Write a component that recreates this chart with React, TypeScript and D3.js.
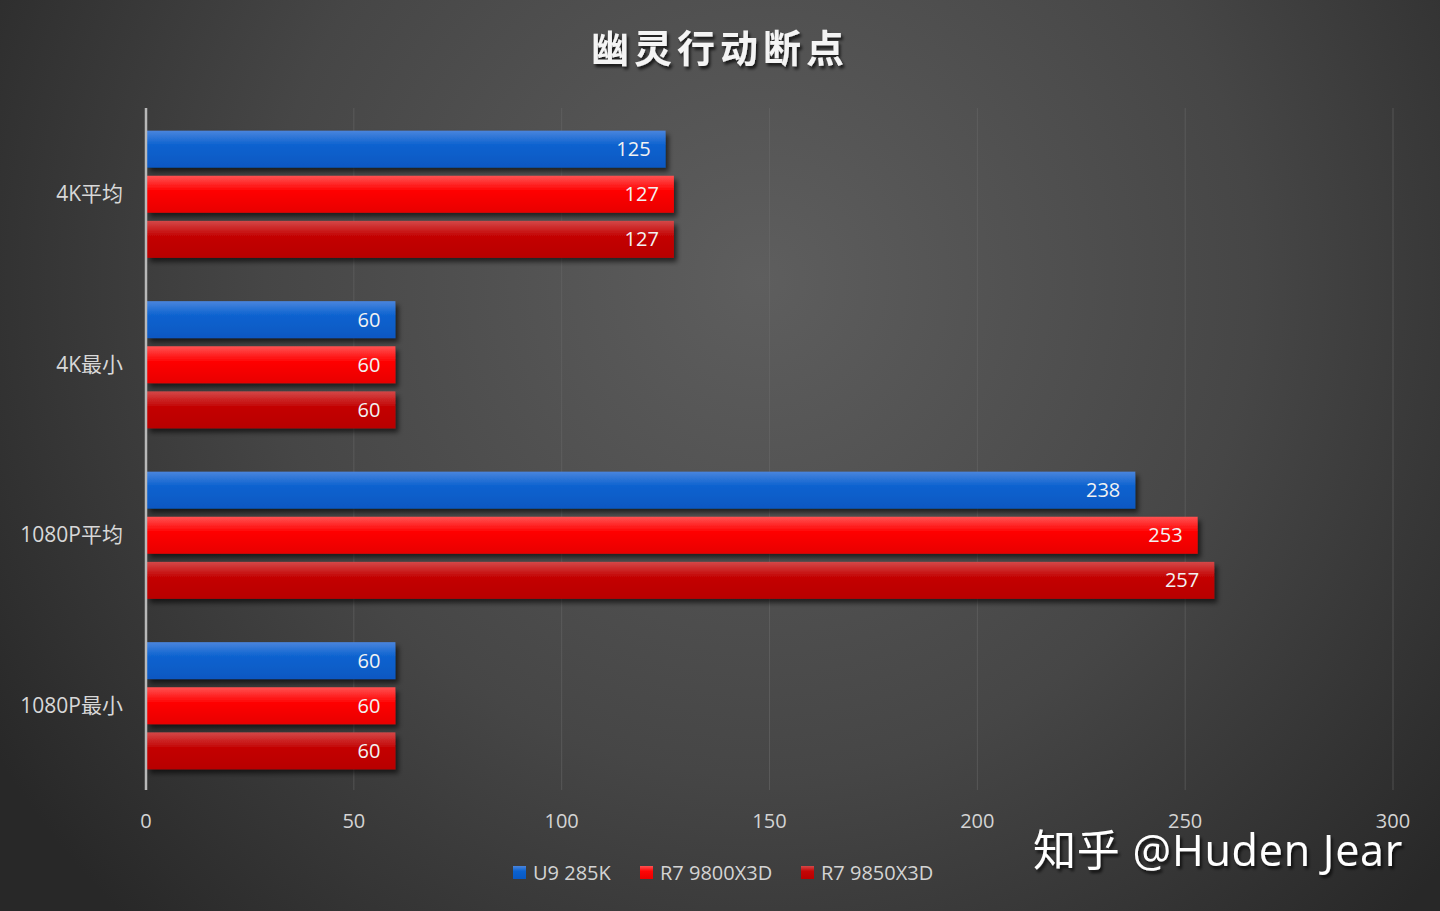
import React, { useEffect, useRef } from 'react';
import * as d3 from 'd3';

const categories = ['4K平均', '4K最小', '1080P平均', '1080P最小'];
const seriesNames = ['U9 285K', 'R7 9800X3D', 'R7 9850X3D'];
const u9285k = [125, 60, 238, 60];
const r79800x3d = [127, 60, 253, 60];
const r79850x3d = [127, 60, 257, 60];
const xTicks = [0, 50, 100, 150, 200, 250, 300];

const W = 1440;
const H = 911;
const FONT = '"Open Sans", "Noto Sans CJK SC", sans-serif';

const App: React.FC = () => {
  const ref = useRef<SVGSVGElement>(null);

  useEffect(() => {
    const svg = d3.select(ref.current);
    svg.selectAll('*').remove();
    svg.attr('width', W).attr('height', H);

    const defs = svg.append('defs');

    // background glow
    const bg = defs.append('radialGradient').attr('id', 'bg')
      .attr('gradientUnits', 'userSpaceOnUse')
      .attr('cx', 760).attr('cy', 280).attr('r', 900);
    bg.append('stop').attr('offset', '0%').attr('stop-color', '#5e5e5e');
    bg.append('stop').attr('offset', '55%').attr('stop-color', '#464646');
    bg.append('stop').attr('offset', '100%').attr('stop-color', '#282828');

    const barColors = [
      ['#4a85dd', '#0b62cf', '#0858c2'],
      ['#ff5252', '#ff0505', '#e80000'],
      ['#d44848', '#c40606', '#b80000'],
    ];
    barColors.forEach((c, i) => {
      const g = defs.append('linearGradient').attr('id', `bar${i}`)
        .attr('x1', 0).attr('y1', 0).attr('x2', 0).attr('y2', 1);
      g.append('stop').attr('offset', '0%').attr('stop-color', c[0]);
      g.append('stop').attr('offset', '40%').attr('stop-color', c[1]);
      g.append('stop').attr('offset', '100%').attr('stop-color', c[2]);
    });

    const shadow = defs.append('filter').attr('id', 'shadow')
      .attr('x', '-5%').attr('y', '-30%').attr('width', '110%').attr('height', '170%');
    shadow.append('feDropShadow').attr('dx', 3).attr('dy', 4).attr('stdDeviation', 2.5)
      .attr('flood-color', '#000').attr('flood-opacity', 0.6);

    const tshadow = defs.append('filter').attr('id', 'tshadow')
      .attr('x', '-10%').attr('y', '-30%').attr('width', '120%').attr('height', '170%');
    tshadow.append('feDropShadow').attr('dx', 2).attr('dy', 3).attr('stdDeviation', 1.5)
      .attr('flood-color', '#000').attr('flood-opacity', 0.7);

    svg.append('rect').attr('width', W).attr('height', H).attr('fill', 'url(#bg)');

    const left = 146;
    const right = 1393;
    const top = 109;
    const bottom = 791;

    const x = d3.scaleLinear().domain([0, 300]).range([left, right]);
    const y = d3.scaleBand().domain(categories).range([top, bottom]).padding(0);
    const ySub = d3.scaleBand().domain(seriesNames).range([0, y.bandwidth()])
      .paddingInner(0.18).paddingOuter(0.48);

    // grid
    svg.append('g').selectAll('line')
      .data(xTicks.filter(t => t > 0))
      .join('line')
      .attr('x1', d => x(d)).attr('x2', d => x(d))
      .attr('y1', top - 1).attr('y2', bottom - 1)
      .attr('stroke', '#6a6a6a').attr('stroke-opacity', 0.55).attr('stroke-width', 1);

    // tick labels
    svg.append('g').selectAll('text')
      .data(xTicks)
      .join('text')
      .attr('x', d => x(d)).attr('y', 828)
      .attr('text-anchor', 'middle')
      .attr('font-family', FONT).attr('font-size', 20)
      .attr('fill', '#d4d4d4')
      .text(d => d);

    // category labels
    svg.append('g').selectAll('text')
      .data(categories)
      .join('text')
      .attr('x', 123).attr('y', d => y(d)! + y.bandwidth() / 2 + 7)
      .attr('text-anchor', 'end')
      .attr('font-family', FONT).attr('font-size', 21)
      .attr('fill', '#d8d8d8')
      .text(d => d);

    const values = [u9285k, r79800x3d, r79850x3d];
    const barData = categories.flatMap((c, ci) =>
      seriesNames.map((s, si) => ({ c, s, si, v: values[si][ci] })));

    const bars = svg.append('g');
    bars.selectAll('rect')
      .data(barData)
      .join('rect')
      .attr('x', x(0) + 1)
      .attr('y', d => y(d.c)! + ySub(d.s)!)
      .attr('width', d => x(d.v) - x(0) - 1)
      .attr('height', ySub.bandwidth())
      .attr('fill', d => `url(#bar${d.si})`)
      .attr('filter', 'url(#shadow)');

    bars.selectAll('text')
      .data(barData)
      .join('text')
      .attr('x', d => x(d.v) - 15)
      .attr('y', d => y(d.c)! + ySub(d.s)! + ySub.bandwidth() / 2 + 7)
      .attr('text-anchor', 'end')
      .attr('font-family', FONT).attr('font-size', 20)
      .attr('fill', '#f2f2f2')
      .text(d => d.v);

    // axis line
    svg.append('line')
      .attr('x1', x(0)).attr('x2', x(0))
      .attr('y1', top - 1).attr('y2', bottom - 1)
      .attr('stroke', '#b8b8b8').attr('stroke-width', 2.5);

    // title
    svg.append('text')
      .attr('x', 720).attr('y', 62)
      .attr('text-anchor', 'middle')
      .attr('font-family', '"Noto Sans CJK SC", sans-serif')
      .attr('font-size', 38).attr('font-weight', 700)
      .attr('letter-spacing', 5)
      .attr('fill', '#f4f4f4')
      .attr('filter', 'url(#tshadow)')
      .text('幽灵行动断点');

    // legend
    const legendX = [513, 640, 801];
    const legend = svg.append('g').selectAll('g')
      .data(seriesNames)
      .join('g')
      .attr('transform', (d, i) => `translate(${legendX[i]},866)`);
    legend.append('rect')
      .attr('width', 13).attr('height', 13)
      .attr('fill', (d, i) => `url(#bar${i})`);
    legend.append('text')
      .attr('x', 20).attr('y', 14)
      .attr('font-family', FONT).attr('font-size', 20)
      .attr('fill', '#d4d4d4')
      .text(d => d);

    // watermark
    svg.append('text')
      .attr('x', 1033).attr('y', 866)
      .attr('font-family', '"Open Sans", "Noto Sans CJK SC", sans-serif')
      .attr('font-size', 43)
      .attr('letter-spacing', 0.8)
      .attr('fill', '#ffffff')
      .attr('filter', 'url(#tshadow)')
      .text('知乎 @Huden Jear');
  }, []);

  return <svg ref={ref} style={{ position: 'absolute', left: 0, top: 0, display: 'block' }} />;
};

export default App;
